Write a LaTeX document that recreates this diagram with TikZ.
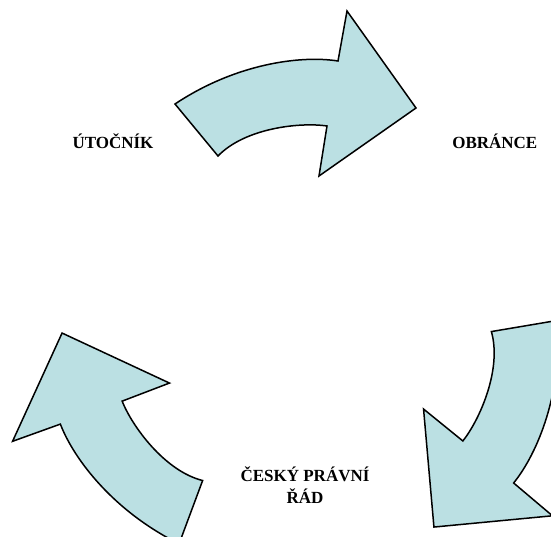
\documentclass[tikz,border=0pt]{standalone}
\usepackage{fontspec}
\setmainfont{Liberation Serif}
\definecolor{arrowfill}{HTML}{BBE0E3}
\tikzset{
  cyclearrow/.style={fill=arrowfill, draw=black, line width=1.5pt, line join=miter},
  label/.style={font=\fontsize{17}{21.5}\selectfont\bfseries, inner sep=0pt, align=center}
}
\newcommand{\arrowshape}{(175,104) .. controls (235,64) and (300,55) .. (338,61) -- (347,11) -- (416,108) -- (319,176) -- (327,126) .. controls (300,122) and (245,128) .. (218,156) -- cycle}
\begin{document}
\begin{tikzpicture}[x=1pt,y=-1pt]
\useasboundingbox (0,0) rectangle (551,537);
\clip (0,0) rectangle (551,537);
\coordinate (C) at (304,322.7);
\draw[cyclearrow] \arrowshape;
\draw[cyclearrow, rotate around={-120:(C)}] \arrowshape;
\draw[cyclearrow, rotate around={120:(C)}] \arrowshape;
\node[label, anchor=base] (utocnik) at (113,148.3) {ÚTOČNÍK};
\node[label, anchor=base] (obrance) at (494.8,148.3) {OBRÁNCE};
\node[label, anchor=base] (rad) at (305,503.3) {ČESKÝ PRÁVNÍ\\ŘÁD};
\end{tikzpicture}
\end{document}
